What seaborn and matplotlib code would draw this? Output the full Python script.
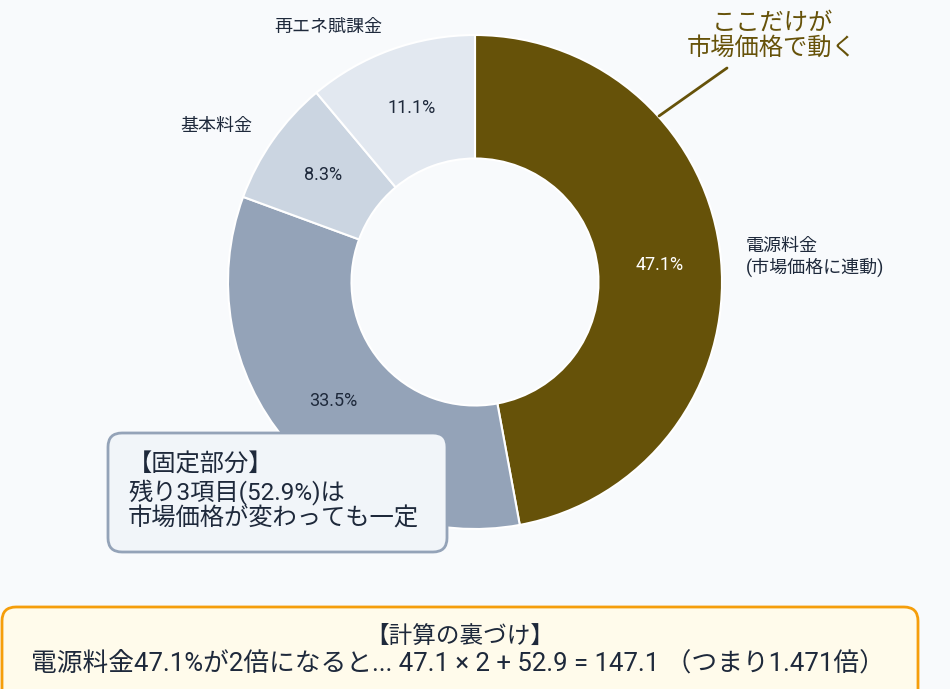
import matplotlib
matplotlib.use("Agg")
import matplotlib.pyplot as plt
import seaborn as sns
from matplotlib.patches import FancyBboxPatch

# データ(33.5%の項目名は参照図では注記ボックスの下に隠れている)
labels = ["電源料金\n(市場価格に連動)", "", "基本料金", "再エネ賦課金"]
shares = [47.1, 33.5, 8.3, 11.1]
colors = ["#665209", "#94a3b8", "#cbd5e1", "#e2e8f0"]
pct_colors = ["white", "#1e293b", "#1e293b", "#1e293b"]

sns.set_theme(style="white")
plt.rcParams["font.family"] = ["Roboto", "Noto Sans CJK JP", "DejaVu Sans"]

W, H = 950, 689
fig = plt.figure(figsize=(W / 100, H / 100), dpi=100)
fig.patch.set_facecolor("#f8fafc")

# ドーナツ
cx, cy, r = 475, 282, 247
half = r * 1.25
ax = fig.add_axes([(cx - half) / W, (H - cy - half) / H, 2 * half / W, 2 * half / H])
ax.set_facecolor("#f8fafc")
wedges, texts, autotexts = ax.pie(
    shares, labels=labels, colors=colors, startangle=90, counterclock=False,
    autopct="%.1f%%", pctdistance=0.75, labeldistance=1.1,
    wedgeprops=dict(width=0.5, edgecolor="white", linewidth=1.5),
    textprops=dict(fontsize=13, color="#1e293b"),
)
for t, c in zip(autotexts, pct_colors):
    t.set_color(c)
    t.set_fontsize(13)
ax.set_xlim(-1.25, 1.25)
ax.set_ylim(-1.25, 1.25)

# 注釈レイヤー(ピクセル座標)
ov = fig.add_axes([0, 0, 1, 1])
ov.set_xlim(0, W)
ov.set_ylim(H, 0)
ov.axis("off")
ov.patch.set_alpha(0)

olive = "#665209"
ov.text(772, 36, "ここだけが\n市場価格で動く", ha="center", va="center",
        fontsize=17.5, color=olive, linespacing=1.12)
ov.plot([727, 659], [68, 116], color=olive, lw=2)

ov.add_patch(FancyBboxPatch((108, 433), 339, 119,
                            boxstyle="round,pad=0,rounding_size=14",
                            facecolor="#f1f5f9", edgecolor="#94a3b8", lw=2, zorder=3))
ov.text(128, 492, "【固定部分】\n残り3項目(52.9%)は\n市場価格が変わっても一定",
        ha="left", va="center", fontsize=17.5, color="#1e293b", linespacing=1.15, zorder=4)

ov.add_patch(FancyBboxPatch((2, 607), 916, 100,
                            boxstyle="round,pad=0,rounding_size=14",
                            facecolor="#fffbeb", edgecolor="#f59e0b", lw=2, zorder=3))
ov.text(460, 636, "【計算の裏づけ】", ha="center", va="center",
        fontsize=17, color="#1e293b", zorder=4)
ov.text(458, 664, "電源料金47.1%が2倍になると... 47.1 × 2 + 52.9 = 147.1 （つまり1.471倍）",
        ha="center", va="center", fontsize=18.5, color="#1e293b", zorder=4)

fig.savefig("out.png", dpi=100, facecolor=fig.get_facecolor())
